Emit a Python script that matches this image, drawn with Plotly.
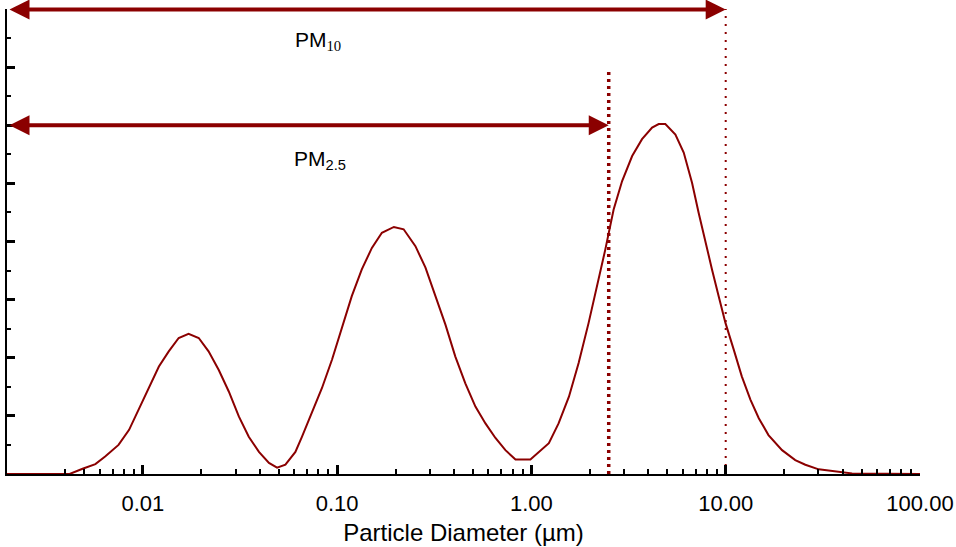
import math
import plotly.graph_objects as go

# ---- data ----
diameter_um = [0.002, 0.0029, 0.0042, 0.0049, 0.0057, 0.0064, 0.0075, 0.0085, 0.0095, 0.0107,
               0.0121, 0.0136, 0.0153, 0.0172, 0.0194, 0.0218, 0.0246, 0.0277, 0.0312, 0.0351,
               0.0396, 0.0446, 0.0491, 0.0542, 0.0610, 0.0659, 0.0743, 0.0836, 0.0942, 0.106,
               0.119, 0.134, 0.151, 0.170, 0.196, 0.220, 0.253, 0.285, 0.321, 0.361,
               0.406, 0.457, 0.515, 0.580, 0.653, 0.735, 0.828, 0.988, 1.23, 1.38,
               1.56, 1.75, 1.97, 2.22, 2.40, 2.65, 2.93, 3.30, 3.71, 4.18,
               4.52, 4.89, 5.51, 6.08, 6.71, 7.26, 7.86, 8.50, 9.20, 9.97,
               11.0, 12.1, 13.4, 14.8, 16.6, 19.5, 22.8, 25.7, 30.1, 38.2, 44.7, 100]
concentration = [0, 0, 0, 0.09, 0.17, 0.30, 0.50, 0.76, 1.10, 1.45,
                 1.85, 2.11, 2.34, 2.41, 2.34, 2.11, 1.79, 1.42, 0.99, 0.64,
                 0.38, 0.19, 0.11, 0.16, 0.38, 0.64, 1.05, 1.48, 1.97, 2.54,
                 3.06, 3.52, 3.89, 4.15, 4.25, 4.21, 3.92, 3.55, 3.06, 2.57,
                 2.02, 1.56, 1.16, 0.87, 0.62, 0.41, 0.25, 0.25, 0.53, 0.87,
                 1.33, 1.91, 2.60, 3.34, 3.86, 4.55, 5.04, 5.47, 5.76, 5.96,
                 6.02, 6.02, 5.84, 5.53, 5.01, 4.49, 3.98, 3.52, 3.06, 2.60,
                 2.14, 1.68, 1.28, 0.96, 0.67, 0.41, 0.24, 0.16, 0.08, 0.04, 0.01, 0]

x_tick_values = [0.01, 0.1, 1, 10, 100]
x_tick_labels = ["0.01", "0.10", "1.00", "10.00", "100.00"]
x_minor_ticks = [0.004, 0.005, 0.006, 0.007, 0.008, 0.009,
                 0.02, 0.03, 0.04, 0.05, 0.06, 0.07, 0.08, 0.09,
                 0.2, 0.3, 0.4, 0.5, 0.6, 0.7, 0.8, 0.9,
                 2, 3, 4, 5, 6, 7, 8, 9,
                 20, 30, 40, 50, 60, 70, 80, 90]

x_min, x_max = 0.002, 100
y_min, y_max = 0, 8

pm_labels = ["PM10", "PM2.5"]
pm_cut_um = [10, 2.5]          # cut-off diameters
pm_arrow_level = [7.99, 6.0]   # height of each arrow
pm_line_top = [8.0, 6.92]      # top of each dotted cut-off line

RED = "#8B0000"
FONT = "Arial, 'Liberation Sans', sans-serif"

fig = go.Figure()

# size distribution curve
fig.add_trace(go.Scatter(x=diameter_um, y=concentration, mode="lines",
                         line=dict(color=RED, width=2), hoverinfo="skip",
                         showlegend=False, cliponaxis=False))

# dotted cut-off lines
fig.add_trace(go.Scatter(x=[pm_cut_um[0], pm_cut_um[0]], y=[y_min, pm_line_top[0]],
                         mode="lines", line=dict(color=RED, width=2, dash="2px,6px"),
                         showlegend=False, hoverinfo="skip"))
fig.add_trace(go.Scatter(x=[pm_cut_um[1], pm_cut_um[1]], y=[y_min, pm_line_top[1]],
                         mode="lines", line=dict(color=RED, width=3.5, dash="3px,4px"),
                         showlegend=False, hoverinfo="skip"))

# double-headed arrows
for cut, lvl in zip(pm_cut_um, pm_arrow_level):
    fig.add_annotation(x=math.log10(cut), y=lvl, ax=math.log10(x_min) + 0.005, ay=lvl,
                       xref="x", yref="y", axref="x", ayref="y", text="",
                       showarrow=True, arrowhead=2, arrowside="end+start",
                       arrowsize=1.0, arrowwidth=4, arrowcolor=RED, standoff=0,
                       startstandoff=0)

serif_sub = "<span style=\"font-family:'Liberation Serif', 'Times New Roman', serif\">10</span>"
fig.add_annotation(x=-1.10, y=7.45, xref="x", yref="y", showarrow=False,
                   text="PM<sub>" + serif_sub + "</sub>",
                   font=dict(family=FONT, size=21, color="black"))
fig.add_annotation(x=-1.09, y=5.41, xref="x", yref="y", showarrow=False,
                   text="PM<sub>2.5</sub>",
                   font=dict(family=FONT, size=21, color="black"))

fig.update_layout(
    width=956, height=547,
    margin=dict(l=7, r=36, t=9, b=73),
    paper_bgcolor="white", plot_bgcolor="white",
    font=dict(family=FONT, size=21, color="black"),
    showlegend=False,
    xaxis=dict(type="log", range=[math.log10(x_min), math.log10(x_max)],
               automargin=False,
               tickmode="array", tickvals=x_tick_values, ticktext=x_tick_labels,
               ticks="inside", ticklen=9, tickwidth=2.5, tickcolor="black",
               showline=True, linecolor="black", linewidth=2,
               showgrid=False, zeroline=False,
               ticklabelstandoff=9,
               tickfont=dict(family=FONT, size=22),
               minor=dict(tickmode="array", tickvals=x_minor_ticks, ticks="inside",
                          ticklen=5, tickwidth=1.5, tickcolor="black", showgrid=False),
               title=dict(text="Particle Diameter (µm)", standoff=9,
                          font=dict(family=FONT, size=24))),
    yaxis=dict(range=[y_min, y_max], tickmode="linear", tick0=0, dtick=1,
               automargin=False,
               ticks="inside", ticklen=8, tickwidth=2.5, tickcolor="black",
               showticklabels=False, showline=True, linecolor="black", linewidth=2,
               showgrid=False, zeroline=False,
               minor=dict(dtick=0.5, ticks="inside", ticklen=4, tickwidth=1.5,
                          tickcolor="black", showgrid=False)),
)

fig.write_html("out.html", config={"displayModeBar": False},
               post_script="document.body.style.margin='0';document.body.style.padding='0';")
